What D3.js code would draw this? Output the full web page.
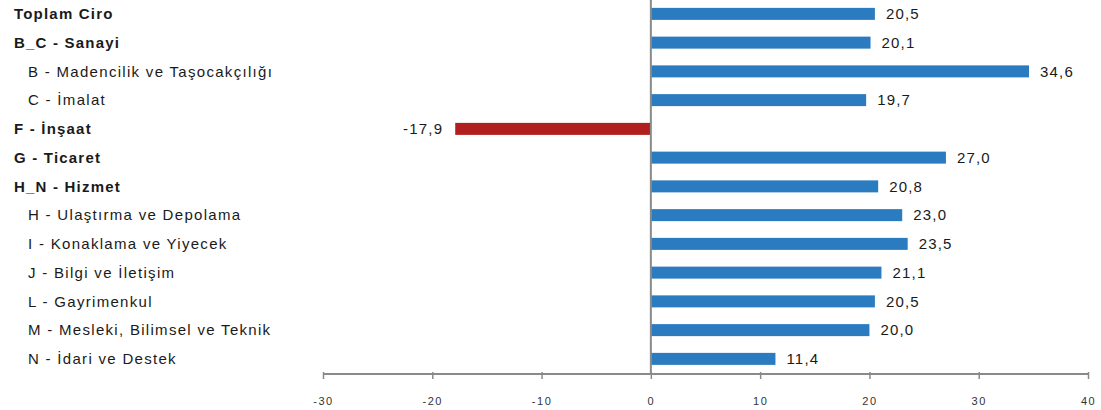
<!DOCTYPE html>
<html><head><meta charset="utf-8">
<script src="https://cdn.jsdelivr.net/npm/d3@7"></script>
<style>html,body{margin:0;padding:0;background:#fff;}svg{display:block;}</style>
</head><body><svg id="c" width="1101" height="410"></svg>
<script>
const categories = ["Toplam Ciro","B_C - Sanayi","B - Madencilik ve Taşocakçılığı","C - İmalat","F - İnşaat","G - Ticaret","H_N - Hizmet","H - Ulaştırma ve Depolama","I - Konaklama ve Yiyecek","J - Bilgi ve İletişim","L - Gayrimenkul","M - Mesleki, Bilimsel ve Teknik","N - İdari ve Destek"];
const values = [20.5,20.1,34.6,19.7,-17.9,27.0,20.8,23.0,23.5,21.1,20.5,20.0,11.4];
const bold = [true,true,false,false,true,true,true,false,false,false,false,false,false];
const tickValues = [-30,-20,-10,0,10,20,30,40];

const FONT = "Liberation Sans, Arial, sans-serif";
const svg = d3.select("#c");
const x = d3.scaleLinear().domain([-30,40]).range([323,1088]);
const y = d3.scaleBand().domain(categories).range([-0.5,373.25]).padding(0);
const barH = 12;
const axisY = 374;
const loc = d3.formatLocale({decimal:",",thousands:".",grouping:[3],currency:["",""],minus:"-"});
const fmt = loc.format(".1f");

// bars
svg.selectAll("rect.bar").data(categories).enter().append("rect")
  .attr("x",(d,i)=>x(Math.min(0,values[i])))
  .attr("y",d=>y(d)+(y.bandwidth()-barH)/2)
  .attr("width",(d,i)=>Math.abs(x(values[i])-x(0)))
  .attr("height",barH)
  .attr("fill",(d,i)=>values[i]<0?"#b01e1e":"#2b7bc0");

// zero line
svg.append("line").attr("x1",x(0)).attr("x2",x(0)).attr("y1",0).attr("y2",axisY)
  .attr("stroke","#8a8a8a").attr("stroke-width",2);

// axis
const axis = d3.axisBottom(x).tickValues(tickValues).tickSize(5).tickFormat(d=>String(d));
const g = svg.append("g").attr("transform",`translate(0,${axisY})`).call(axis);
g.select(".domain").attr("stroke","#8a8a8a").attr("stroke-width",2).attr("d",`M${x(-30)},0H${x(40)}`);
g.selectAll(".tick line").attr("stroke","#8a8a8a").attr("stroke-width",1.5).attr("y1",-2).attr("y2",5);
g.selectAll(".tick text").attr("y",23).attr("font-family",FONT).attr("font-size",11)
  .attr("letter-spacing",1.5).attr("fill","#333");

// category labels
svg.selectAll("text.cat").data(categories).enter().append("text")
  .attr("x",(d,i)=>bold[i]?14:28)
  .attr("y",d=>y(d)+y.bandwidth()/2)
  .attr("dy","0.35em")
  .attr("font-family",FONT)
  .attr("font-size",15)
  .attr("letter-spacing",(d,i)=>bold[i]?1.2:1.3)
  .attr("font-weight",(d,i)=>bold[i]?"bold":"normal")
  .attr("fill","#1a1a1a")
  .text(d=>d);

// value labels
svg.selectAll("text.val").data(categories).enter().append("text")
  .attr("x",(d,i)=>values[i]<0?x(values[i])-12:x(values[i])+11)
  .attr("y",d=>y(d)+y.bandwidth()/2)
  .attr("dy","0.35em")
  .attr("text-anchor",(d,i)=>values[i]<0?"end":"start")
  .attr("font-family",FONT)
  .attr("font-size",15)
  .attr("letter-spacing",1.2)
  .attr("fill","#1a1a1a")
  .text((d,i)=>fmt(values[i]));
</script></body></html>
